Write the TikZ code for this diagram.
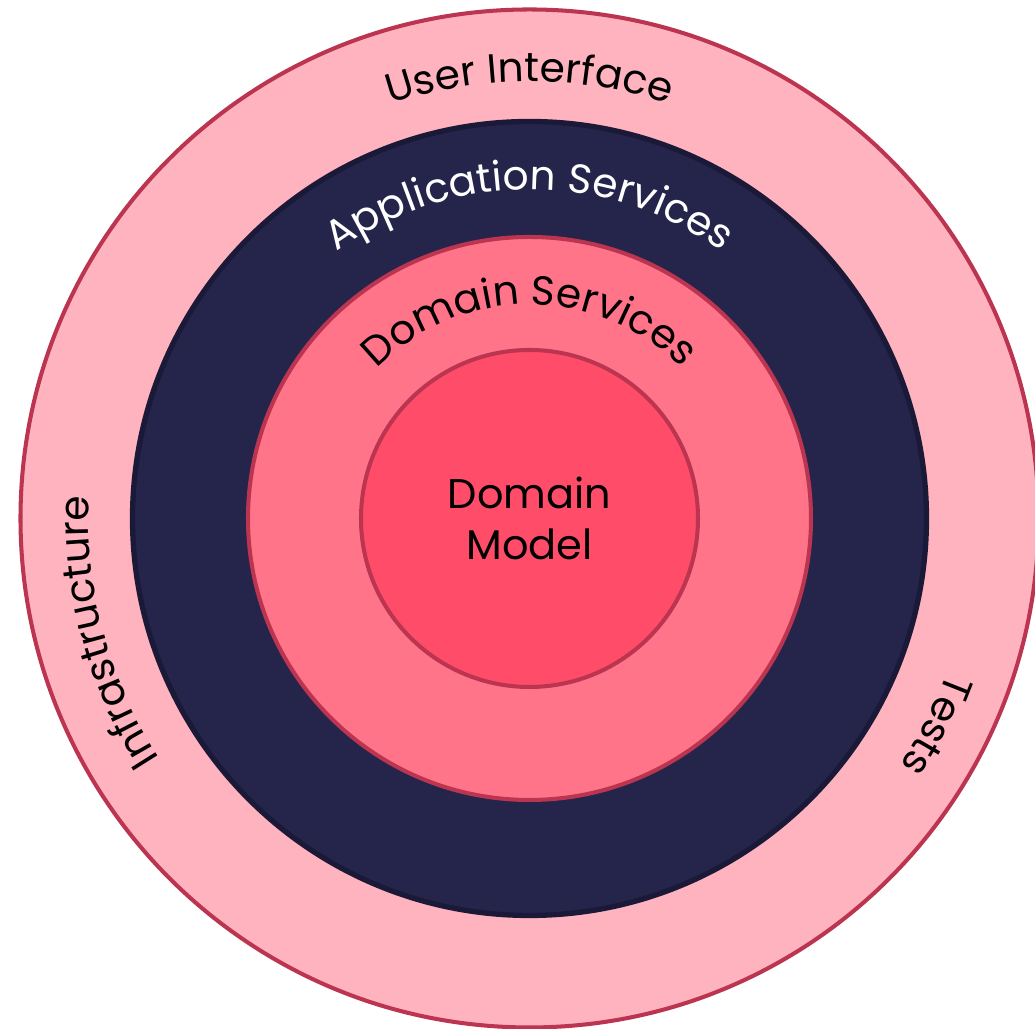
\documentclass[tikz,border=0pt]{standalone}
\usepackage{fontspec}
\setmainfont{Poppins}
\usetikzlibrary{positioning}
\usetikzlibrary{calc}
\usetikzlibrary{decorations.text}

\definecolor{uipink}{HTML}{FFB3BF}
\definecolor{ringred}{HTML}{BC3550}
\definecolor{appnavy}{HTML}{25244B}
\definecolor{appedge}{HTML}{1A1938}
\definecolor{dspink}{HTML}{FF7489}
\definecolor{dmred}{HTML}{FF4D69}

\newcommand\ringfont{\fontsize{11.6}{13}\selectfont}

\tikzset{
  ring/.style={circle, inner sep=0pt, line width=1.15pt},
  arclabel/.style={decorate, decoration={text along path, text align=center, text={|\ringfont|#1}}}
}

\begin{document}
\begin{tikzpicture}
 % canvas of the reference, outer ring runs off on the right and bottom
 \useasboundingbox (0,0) rectangle (10.35,10.29);
 \clip (0,0) rectangle (10.35,10.29);
 \coordinate (c) at (5.295,5.105);

 % the four rings, from the outside in
 \node[ring, fill=uipink, draw=ringred, minimum size=10.18cm] (ui) at (c) {};
 \node[ring, fill=appnavy, draw=appedge, line width=1.5pt, minimum size=7.94cm] (app) at (c) {};
 \node[ring, fill=dspink, draw=ringred, minimum size=5.63cm] (dsvc) at (c) {};
 \node[ring, fill=dmred, draw=ringred, minimum size=3.37cm, align=center,
       font=\fontsize{11.8}{14.5}\selectfont] (dmodel) at (c) {Domain\\Model};

 % curved labels
 \path[arclabel={User Interface}] ($(c)+(140:4.37)$) arc[start angle=140, end angle=40, radius=4.37];
 \path[arclabel={Application Services}, decoration={text color=white}]
   ($(c)+(150:3.29)$) arc[start angle=150, end angle=30, radius=3.29];
 \path[arclabel={Domain Services}] ($(c)+(160:2.14)$) arc[start angle=160, end angle=20, radius=2.14];
 \path[arclabel={Infrastructure}] ($(c)+(236:4.41)$) arc[start angle=236, end angle=154, radius=4.41];
 \path[arclabel={Tests}] ($(c)+(2:4.45)$) arc[start angle=2, end angle=-56, radius=4.45];
\end{tikzpicture}
\end{document}
